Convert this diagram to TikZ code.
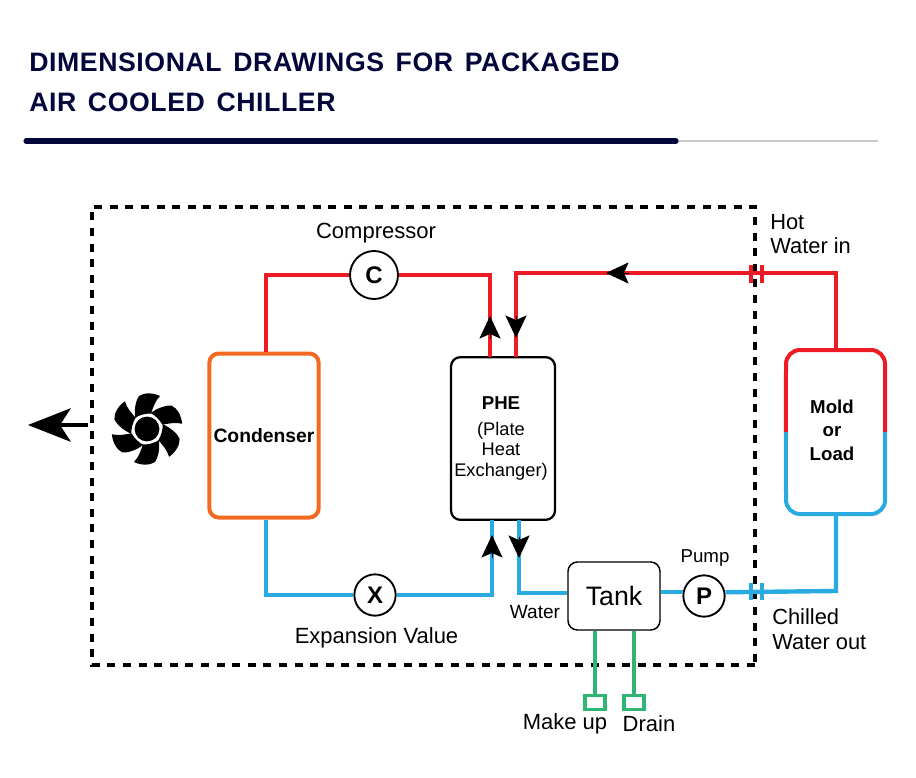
\documentclass[tikz,border=0pt]{standalone}
\usepackage{fontspec}
\setmainfont{Liberation Sans}
\newfontfamily\titlefont[LetterSpace=2.2,WordSpace=1.45]{Liberation Sans}
\usetikzlibrary{arrows.meta}
\definecolor{navy}{HTML}{02063B}
\definecolor{pipered}{HTML}{ED1C24}
\definecolor{pipeblue}{HTML}{29ABE2}
\definecolor{pipegreen}{HTML}{2FB574}
\definecolor{orangebox}{HTML}{F26A21}
\tikzset{
    titletext/.style={anchor=base west, inner sep=0pt, text=navy, font=\titlefont\bfseries\fontsize{20}{20}\selectfont},
    redpipe/.style={pipered, line width=3.3pt},
    bluepipe/.style={pipeblue, line width=3.3pt},
    greenpipe/.style={pipegreen, line width=2.3pt},
    flowtip/.style={-{Stealth[length=17pt, width=16pt, inset=3.5pt]}, line width=0pt, black},
    device/.style={circle, draw=black, line width=1.4pt, fill=white, inner sep=0pt, minimum size=#1, font=\bfseries\fontsize{18}{18}\selectfont},
    box/.style={rectangle, rounded corners=7pt, align=center, inner sep=0pt},
    lbl/.style={inner sep=0pt, align=left, font=\fontsize{#1}{#1}\selectfont},
    lbl/.default=16.5
}
\begin{document}
\begin{tikzpicture}[x=0.75pt, y=-0.75pt]
    \useasboundingbox (0,0) rectangle (916,777);

    % Title and rule
    \node[titletext] (titleA) at (29,72) {DIMENSIONAL DRAWINGS FOR PACKAGED};
    \node[titletext] (titleB) at (29,112) {AIR COOLED CHILLER};
    \draw[black!20, line width=0.8pt] (677,141) -- (878,141);
    \draw[navy, line width=3.8pt, line cap=round] (26,141) -- (676,141);

    % Chiller boundary
    \draw[black, line width=3.4pt, dash pattern=on 6pt off 5.7pt] (755,665) -- (92,665) -- (92,207) -- (755,207) -- cycle;

    % Components
    \node[box, draw=orangebox, line width=3pt, minimum width=82pt, minimum height=123pt, font=\bfseries\fontsize{14.5}{14.5}\selectfont] (condenser) at (264,435.5) {Condenser};
    \node[box, draw=black, line width=1.7pt, minimum width=78pt, minimum height=122pt] (phe) at (503,438.5) {};
    \node[box, draw=black, line width=1.1pt, minimum width=69pt, minimum height=51pt, font=\fontsize{20}{20}\selectfont] (tank) at (614,596) {Tank};
    \node[box, minimum width=74pt, minimum height=123pt] (mold) at (835.5,432) {};
    \node[device=36pt] (compC) at (374,275) {C};
    \node[device=31pt] (expX) at (375,595) {X};
    \node[device=31pt] (pumpP) at (704,596) {P};

    % Named ports and bends
    \coordinate (pheRedL) at (490,357);
    \coordinate (pheRedR) at (516,357);
    \coordinate (pheBlueL) at (492,520);
    \coordinate (pheBlueR) at (519,520);
    \coordinate (moldTop) at (836,350);
    \coordinate (moldBot) at (836,514);

    % Refrigerant and water pipes (red)
    \draw[redpipe] (condenser.north -| 266,0) |- (compC.west);
    \draw[redpipe] (compC.east) -| (pheRedL);
    \draw[redpipe] (pheRedR) |- (640,273) -- (836,273) -- (moldTop);

    % Refrigerant and water pipes (blue)
    \draw[bluepipe] (condenser.south -| 266,0) |- (expX.west);
    \draw[bluepipe] (expX.east) -| (pheBlueL);
    \draw[bluepipe] (pheBlueR) |- (tank.west |- 0,593);
    \draw[bluepipe] (tank.east |- pumpP.170) -- (pumpP.170);
    \draw[bluepipe] (pumpP.10) -- (836,591) -- (moldBot);

    % Make up and drain
    \node[draw=pipegreen, line width=2.3pt, minimum width=15pt, minimum height=11pt, inner sep=0pt] (makeup) at (595,702.5) {};
    \node[draw=pipegreen, line width=2.3pt, minimum width=15pt, minimum height=11pt, inner sep=0pt] (drain) at (634,702.5) {};
    \draw[greenpipe] (makeup.north) -- (makeup.north |- tank.south);
    \draw[greenpipe] (drain.north) -- (drain.north |- tank.south);

    % Load, half red half blue
    \draw[pipeblue, line width=3pt] (mold.east |- 0,432) -- ++(0,68) arc (0:90:14) -- (800,514) arc (90:180:14) -- (mold.west |- 0,432);
    \draw[pipered, line width=3pt] (mold.west |- 0,432) -- (786,364) arc (180:270:14) -- (871,350) arc (270:360:14) -- (mold.east |- 0,432);
    \node[lbl, align=center, font=\bfseries\fontsize{14}{17.5}\selectfont] (moldText) at (832,430) {Mold\\or\\Load};

    % PHE text
    \node[lbl, font=\bfseries\fontsize{14}{14}\selectfont] (pheName) at (501,403) {PHE};
    \node[lbl, align=center, font=\fontsize{13.7}{15.5}\selectfont] (pheText) at (501,451) {(Plate\\Heat\\Exchanger)};

    % Flanges
    \foreach \x in {751, 762} {
        \draw[redpipe, line width=2.6pt] (\x,265) -- (\x,283);
        \draw[bluepipe, line width=2.6pt] (\x,583) -- (\x,600);
    }

    % Flow arrows
    \foreach \xa/\ya/\xb/\yb in {490/338/490/316, 516/316/516/338, 628/273/606/273, 492/557/492/535, 519/537/519/558} {
        \draw[flowtip] (\xa,\ya) -- (\xb,\yb);
    }
    \draw[-{Stealth[length=32pt, width=25pt, inset=8pt]}, line width=3pt, black] (88,425) -- (28,425);

    % Fan
    \foreach \a in {0, 60, ..., 300} {
        \fill[black, shift={(147,429)}, rotate=\a] (-12,-11) .. controls (-13,-20) and (-11,-29) .. (-8,-33) .. controls (-3,-36.5) and (6,-36.5) .. (13,-33) .. controls (8,-28) and (6,-21) .. (4,-15.5) .. controls (-2,-15.5) and (-8,-14) .. cycle;
    }
    \fill[black] (147,429) circle (9.3pt);

    % Labels
    \node[lbl] (compLabel) at (376,233.5) {Compressor};
    \node[lbl] (expLabel) at (376.5,638) {Expansion Value};
    \node[lbl, anchor=west, font=\fontsize{16.4}{18.5}\selectfont] (hotLabel) at (770,234) {Hot\\Water in};
    \node[lbl, anchor=west, font=\fontsize{16.4}{18.5}\selectfont] (coldLabel) at (772,629) {Chilled\\Water out};
    \node[lbl=14.3] (waterLabel) at (535,612) {Water};
    \node[lbl=14] (pumpLabel) at (705,558) {Pump};
    \node[lbl] (makeLabel) at (565,724) {Make up};
    \node[lbl] (drainLabel) at (649,724) {Drain};
\end{tikzpicture}
\end{document}
